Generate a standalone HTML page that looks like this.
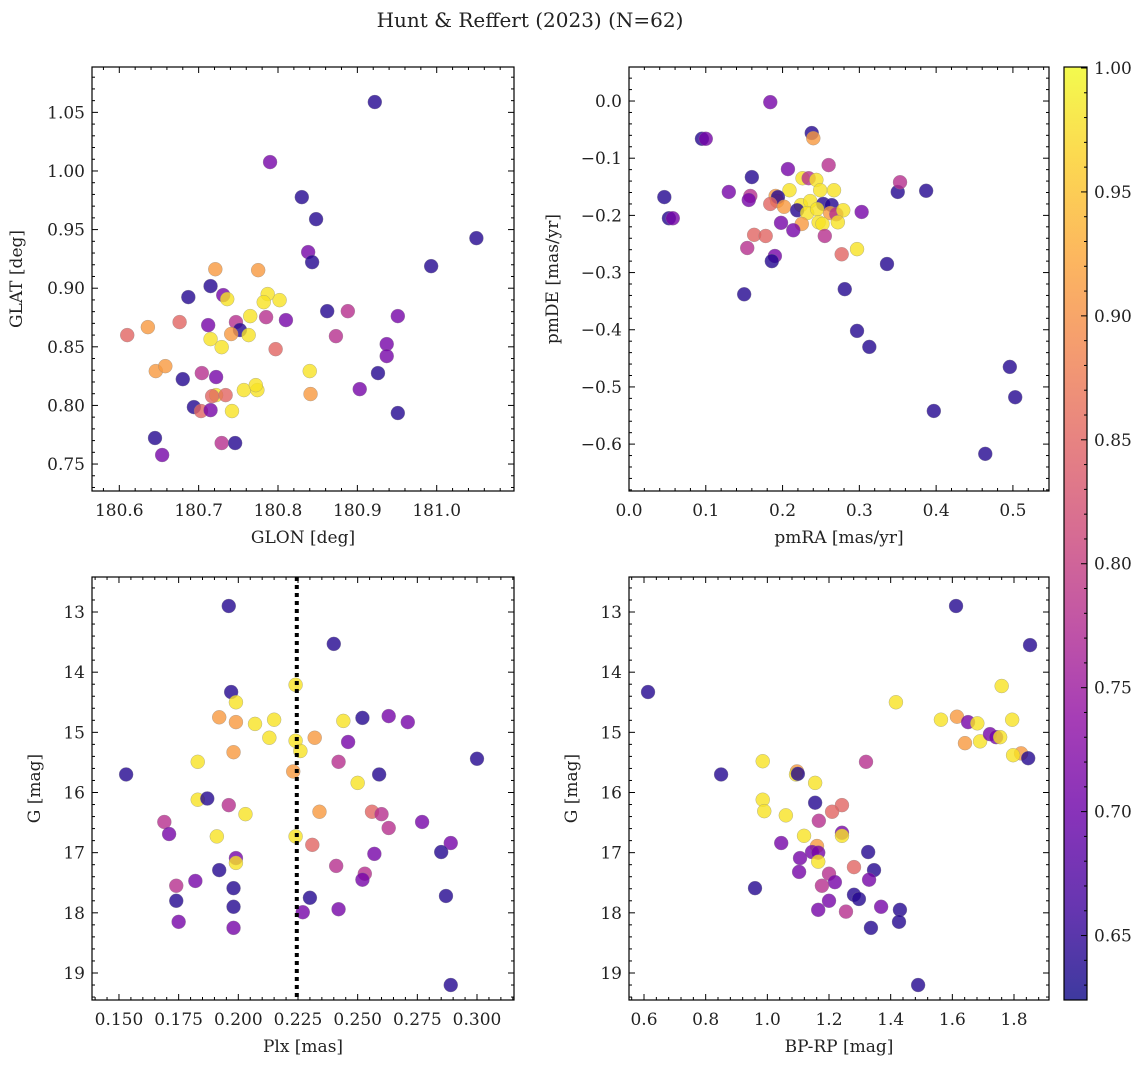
<!DOCTYPE html>
<html><head><meta charset="utf-8"><style>
html,body{margin:0;padding:0;background:#fff;}
svg text{font-family:"DejaVu Serif","Liberation Serif",serif;fill:#222;}
</style></head><body>
<svg id="chart" width="1148" height="1067" xmlns="http://www.w3.org/2000/svg">
<text x="530" y="27" font-size="20" text-anchor="middle">Hunt &amp; Reffert (2023) (N=62)</text>
</svg>
<script>
const B=0.64,P=0.71,M=0.78,S=0.85,O=0.91,Y=0.98;
const glon=[180.922,180.790,180.830,180.848,181.050,180.838,180.843,180.993,180.721,180.775,180.687,180.715,180.731,180.736,180.787,180.782,180.802,180.636,180.676,180.610,180.712,180.765,180.785,180.810,180.862,180.888,180.873,180.951,180.747,180.752,180.741,180.763,180.715,180.729,180.797,180.937,180.937,180.646,180.658,180.680,180.704,180.722,180.840,180.926,180.903,180.757,180.774,180.772,180.722,180.717,180.734,180.841,180.694,180.703,180.715,180.742,180.951,180.645,180.729,180.746,180.654];
const glat=[1.0588,1.0076,0.9777,0.9589,0.9427,0.9308,0.9222,0.9188,0.9162,0.9154,0.8924,0.9018,0.8941,0.8907,0.8950,0.8881,0.8898,0.8668,0.8711,0.8600,0.8685,0.8762,0.8753,0.8728,0.8804,0.8804,0.8591,0.8762,0.8711,0.8643,0.8609,0.8600,0.8566,0.8497,0.8480,0.8523,0.8421,0.8293,0.8335,0.8224,0.8276,0.8242,0.8293,0.8276,0.8139,0.8131,0.8131,0.8173,0.8088,0.8079,0.8088,0.8097,0.7986,0.7952,0.7960,0.7952,0.7935,0.7722,0.7679,0.7679,0.7577];
const prob1=[B,P,B,B,B,P,B,B,O,O,B,B,P,Y,Y,Y,Y,O,S,S,P,Y,M,P,B,M,M,P,M,B,O,Y,Y,Y,S,P,P,O,O,B,M,P,Y,B,P,Y,Y,Y,Y,S,S,O,B,S,P,Y,B,B,M,B,P];
const pmra=[0.184,0.095,0.100,0.238,0.240,0.26,0.046,0.052,0.057,0.130,0.160,0.207,0.226,0.234,0.244,0.209,0.249,0.267,0.191,0.193,0.158,0.156,0.194,0.224,0.236,0.253,0.264,0.350,0.353,0.387,0.184,0.202,0.219,0.232,0.245,0.262,0.270,0.279,0.303,0.198,0.247,0.252,0.225,0.272,0.214,0.163,0.178,0.255,0.297,0.154,0.190,0.186,0.277,0.336,0.281,0.150,0.297,0.313,0.496,0.503,0.397,0.464];
const pmde=[-0.002,-0.066,-0.066,-0.056,-0.065,-0.112,-0.168,-0.205,-0.205,-0.159,-0.133,-0.119,-0.135,-0.135,-0.138,-0.156,-0.156,-0.156,-0.166,-0.175,-0.166,-0.173,-0.168,-0.182,-0.175,-0.180,-0.182,-0.159,-0.142,-0.157,-0.180,-0.185,-0.191,-0.196,-0.189,-0.196,-0.198,-0.191,-0.194,-0.213,-0.212,-0.215,-0.215,-0.212,-0.226,-0.234,-0.236,-0.236,-0.259,-0.257,-0.271,-0.280,-0.268,-0.285,-0.329,-0.338,-0.402,-0.430,-0.465,-0.518,-0.542,-0.617];
const prob2=[P,B,P,B,O,M,B,B,P,P,B,P,Y,M,Y,Y,Y,Y,O,O,M,P,B,Y,Y,B,B,B,M,B,S,O,B,Y,Y,O,M,Y,P,P,Y,Y,O,Y,P,S,S,M,Y,M,P,B,S,B,B,B,B,B,B,B,B,B];
const plx=[0.196,0.240,0.197,0.224,0.199,0.192,0.199,0.207,0.215,0.244,0.252,0.263,0.271,0.232,0.213,0.224,0.226,0.198,0.246,0.153,0.183,0.300,0.223,0.242,0.259,0.250,0.234,0.183,0.196,0.187,0.203,0.256,0.260,0.263,0.169,0.171,0.191,0.224,0.231,0.277,0.289,0.285,0.257,0.199,0.199,0.241,0.192,0.253,0.252,0.182,0.174,0.198,0.174,0.230,0.287,0.198,0.227,0.242,0.175,0.198,0.289];
const gmag3=[12.9,13.53,14.33,14.21,14.50,14.75,14.83,14.86,14.79,14.81,14.76,14.73,14.83,15.09,15.09,15.14,15.31,15.33,15.16,15.70,15.49,15.44,15.65,15.49,15.70,15.84,16.32,16.12,16.21,16.10,16.36,16.32,16.36,16.59,16.49,16.69,16.73,16.73,16.87,16.49,16.84,16.99,17.02,17.09,17.17,17.22,17.29,17.35,17.45,17.47,17.55,17.59,17.80,17.75,17.72,17.90,17.99,17.94,18.15,18.25,19.2];
const prob3=[B,B,B,Y,Y,O,O,Y,Y,Y,B,P,P,O,Y,Y,Y,O,P,B,Y,B,O,M,B,Y,O,Y,M,B,Y,S,M,M,M,P,Y,Y,S,P,P,B,P,P,Y,M,B,M,P,P,M,B,B,B,B,B,P,P,P,P,B];
const bprp=[1.612,1.852,0.613,1.417,1.76,1.563,1.615,1.651,1.681,1.794,1.641,1.69,1.722,1.742,1.755,1.823,1.797,1.846,0.985,1.096,1.093,1.320,0.85,1.099,1.155,0.985,0.99,1.155,1.242,1.21,1.167,1.06,1.045,1.119,1.242,1.242,1.161,1.145,1.327,1.165,1.106,1.165,1.281,1.346,1.103,1.20,1.33,1.219,0.96,1.177,1.281,1.297,1.20,1.369,1.43,1.165,1.255,1.336,1.427,1.489];
const gmag4=[12.9,13.55,14.33,14.50,14.23,14.79,14.74,14.83,14.85,14.79,15.18,15.15,15.03,15.08,15.08,15.35,15.38,15.43,15.48,15.65,15.70,15.49,15.70,15.69,15.84,16.12,16.31,16.17,16.21,16.32,16.47,16.38,16.84,16.72,16.67,16.72,16.89,16.99,16.99,17.0,17.09,17.15,17.24,17.29,17.32,17.35,17.45,17.49,17.59,17.55,17.70,17.77,17.80,17.90,17.95,17.95,17.98,18.25,18.15,19.2];
const prob4=[B,B,B,Y,Y,Y,O,P,Y,Y,O,Y,P,P,Y,O,Y,B,Y,O,Y,M,B,B,Y,Y,Y,B,S,S,M,Y,P,Y,P,Y,O,P,B,P,P,Y,S,B,P,M,P,P,B,M,B,B,P,P,B,P,M,B,B,B];
const plxLine=0.2245;
const cbTicks=[0.65,0.70,0.75,0.80,0.85,0.90,0.95,1.00];
const CMIN=0.624,CMAX=1.0004;

const NS="http://www.w3.org/2000/svg";
const svg=document.getElementById('chart');
function el(tag,attrs,parent){const e=document.createElementNS(NS,tag);for(const k in attrs)e.setAttribute(k,attrs[k]);(parent||svg).appendChild(e);return e;}
const stops=["#0d0887","#41049d","#6a00a8","#8f0da4","#b12a90","#cc4778","#e16462","#f2844b","#fca636","#fcce25","#f0f921"];
function hex(h){return [1,3,5].map(i=>parseInt(h.substr(i,2),16));}
function cmap(p){let t=(p-CMIN)/(CMAX-CMIN);t=Math.max(0,Math.min(1,t));const f=t*10,i=Math.min(9,Math.floor(f)),r=f-i;const a=hex(stops[i]),b=hex(stops[i+1]);return 'rgb('+a.map((v,k)=>Math.round(v+(b[k]-v)*r)).join(',')+')';}

function panel(o){
  const g=el('g',{});
  
  
  const L=o.L,R=o.R,T=o.T,Bt=o.B;
  const sx=v=>L+(v-o.x0)/(o.x1-o.x0)*(R-L);
  const sy=v=>Bt-(v-o.y0)/(o.y1-o.y0)*(Bt-T);
  for(let i=0;i<o.xs.length;i++){
    const c=el('circle',{cx:sx(o.xs[i]),cy:sy(o.ys[i]),r:7,fill:cmap(o.ps[i]),'fill-opacity':0.8,stroke:'#888','stroke-width':0.5,'stroke-opacity':0.6},g);
    
    
  }
  if(o.vline!==undefined){
    const l=el('line',{x1:sx(o.vline),x2:sx(o.vline),y1:T,y2:Bt,stroke:'#000','stroke-width':4,'stroke-dasharray':'4,4'},g);
    
    
  }
  const fr=el('rect',{x:L,y:T,width:R-L,height:Bt-T,fill:'none',stroke:'#000','stroke-width':1.2},g);
  
  
  const lo=Math.min(o.x0,o.x1),hi=Math.max(o.x0,o.x1);
  for(let k=Math.ceil(lo/o.xmin-1e-6);k*o.xmin<=hi+1e-9;k++){
    const v=k*o.xmin,x=sx(v);const maj=Math.abs(v/o.xmaj-Math.round(v/o.xmaj))<1e-6;const len=maj?6:3;
    el('line',{x1:x,x2:x,y1:Bt,y2:Bt-len,stroke:'#000'},g);el('line',{x1:x,x2:x,y1:T,y2:T+len,stroke:'#000'},g);
    if(maj){const t=el('text',{x:x,y:Bt+25,'font-size':17,'text-anchor':'middle'},g);t.textContent=o.xfmt(v);
      }
  }
  const ylo=Math.min(o.y0,o.y1),yhi=Math.max(o.y0,o.y1);
  for(let k=Math.ceil(ylo/o.ymin-1e-6);k*o.ymin<=yhi+1e-9;k++){
    const v=k*o.ymin,y=sy(v);const maj=Math.abs(v/o.ymaj-Math.round(v/o.ymaj))<1e-6;const len=maj?6:3;
    el('line',{x1:L,x2:L+len,y1:y,y2:y,stroke:'#000'},g);el('line',{x1:R,x2:R-len,y1:y,y2:y,stroke:'#000'},g);
    if(maj){const t=el('text',{x:L-7,y:y+6,'font-size':17,'text-anchor':'end'},g);t.textContent=o.yfmt(v);
      }
  }
  const xl=el('text',{x:(L+R)/2,y:Bt+52,'font-size':17,'text-anchor':'middle'},g);xl.textContent=o.xlabel;
  
  const yx=o.ylx,yy=(T+Bt)/2;
  const yl=el('text',{x:yx,y:yy,'font-size':17,'text-anchor':'middle',transform:`rotate(-90 ${yx} ${yy})`},g);yl.textContent=o.ylabel;
  
}
const mn=s=>s.replace('-','\u2212');
panel({name:'glon-glat-panel',L:92,R:514,T:67,B:491,x0:180.5656,x1:181.0974,y0:0.727,y1:1.0887,xs:glon,ys:glat,ps:prob1,
  xmaj:0.1,xmin:0.02,ymaj:0.05,ymin:0.01,xfmt:v=>v.toFixed(1),yfmt:v=>v.toFixed(2),xlabel:'GLON [deg]',ylabel:'GLAT [deg]',ylx:22});
panel({name:'proper-motion-panel',L:629,R:1049,T:67,B:491,x0:0,x1:0.547,y0:-0.682,y1:0.0595,xs:pmra,ys:pmde,ps:prob2,
  xmaj:0.1,xmin:0.02,ymaj:0.1,ymin:0.02,xfmt:v=>v.toFixed(1),yfmt:v=>mn((Math.abs(v)<1e-9?0:v).toFixed(1)),xlabel:'pmRA [mas/yr]',ylabel:'pmDE [mas/yr]',ylx:558});
panel({name:'parallax-g-panel',L:92,R:514,T:577,B:1000,x0:0.1387,x1:0.3155,y0:19.449,y1:12.418,xs:plx,ys:gmag3,ps:prob3,
  xmaj:0.025,xmin:0.005,ymaj:1,ymin:0.2,xfmt:v=>v.toFixed(3),yfmt:v=>v.toFixed(0),xlabel:'Plx [mas]',ylabel:'G [mag]',ylx:40,vline:plxLine});
panel({name:'cmd-panel',L:629,R:1049,T:577,B:1000,x0:0.5513,x1:1.9135,y0:19.449,y1:12.418,xs:bprp,ys:gmag4,ps:prob4,
  xmaj:0.2,xmin:0.04,ymaj:1,ymin:0.2,xfmt:v=>v.toFixed(1),yfmt:v=>v.toFixed(0),xlabel:'BP-RP [mag]',ylabel:'G [mag]',ylx:577});

const cb=el('g',{});


const defs=el('defs',{},cb);const lg=el('linearGradient',{id:'cg',x1:0,y1:1,x2:0,y2:0},defs);
stops.forEach((s,i)=>el('stop',{offset:i/10,'stop-color':s,'stop-opacity':0.8},lg));
const CT=67,CBt=1000,CL=1064,CR=1087;
el('rect',{x:CL,y:CT,width:CR-CL,height:CBt-CT,fill:'url(#cg)',stroke:'#000','stroke-width':1.2},cb);
const cy=v=>CBt-(v-CMIN)/(CMAX-CMIN)*(CBt-CT);
for(let k=63;k<=100;k++){const v=k/100,y=cy(v);const maj=k%5===0;
  el('line',{x1:CR,x2:CR-(maj?6:3),y1:y,y2:y,stroke:'#000'},cb);
}
cbTicks.forEach(v=>{const t=el('text',{x:CR+7,y:cy(v)+6,'font-size':17},cb);t.textContent=v.toFixed(2);
  });
</script>
</body></html>
